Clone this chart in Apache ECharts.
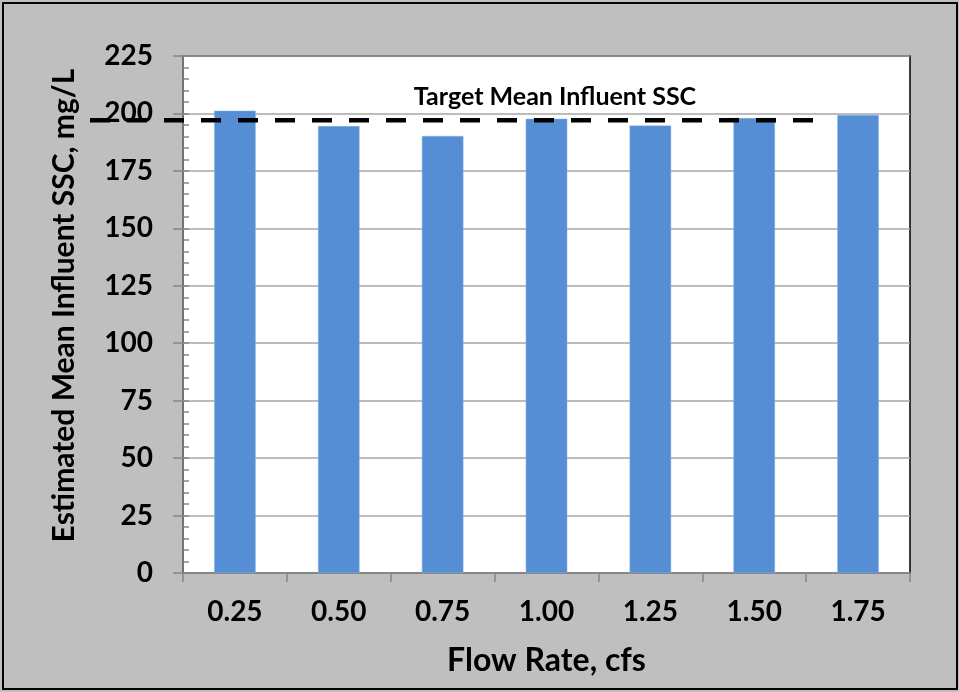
<!DOCTYPE html>
<html>
<head>
<meta charset="utf-8">
<script src="https://cdn.jsdelivr.net/npm/echarts@6/dist/echarts.min.js"></script>
<style>
html,body{margin:0;padding:0;background:#BFBFBF;}
#chart{width:959px;height:692px;}
</style>
</head>
<body>
<div id="chart"></div>
<script>
// data
var flowRates = ['0.25', '0.50', '0.75', '1.00', '1.25', '1.50', '1.75'];
var meanSSC = [201.2, 194.5, 190.2, 197.7, 194.7, 198.0, 199.3];
var targetSSC = 197;
var targetLine = [[0, targetSSC], [1, targetSSC]];

var font = 'Lato';
var chart = echarts.init(document.getElementById('chart'));

var option = {
	backgroundColor: '#BFBFBF',
	animation: false,
	textStyle: {fontFamily: font},
	graphic: [
		{type: 'rect', shape: {x: 3, y: 3, width: 954, height: 686}, style: {fill: 'none', stroke: '#000', lineWidth: 2}, z: 100},
		{type: 'text', x: 555, y: 97, style: {text: 'Target Mean Influent SSC', font: 'bold 25px ' + font, fill: '#000', textAlign: 'center', textVerticalAlign: 'middle'}, z: 100}
	],
	grid: [
		{left: 183, right: 49, top: 56, bottom: 119, show: true, backgroundColor: '#fff', borderColor: '#000', borderWidth: 1.5},
		{left: 90, right: 139, top: 56, bottom: 119}
	],
	xAxis: [
		{
			type: 'category', data: flowRates, gridIndex: 0,
			name: 'Flow Rate, cfs', nameLocation: 'middle', nameGap: 72,
			nameTextStyle: {fontSize: 32, fontWeight: 'bold', color: '#000'},
			axisLine: {lineStyle: {color: '#868686', width: 1.5}},
			axisTick: {show: true, length: 9, lineStyle: {color: '#868686', width: 1.5}},
			axisLabel: {fontSize: 28, fontWeight: 'bold', color: '#000', margin: 25},
			splitLine: {show: false}
		},
		{type: 'value', gridIndex: 1, min: 0, max: 1, show: false}
	],
	yAxis: [
		{
			type: 'value', gridIndex: 0, min: 0, max: 225, interval: 25,
			name: 'Estimated Mean Influent SSC, mg/L', nameLocation: 'middle', nameGap: 104,
			nameMoveOverlap: false,
			nameTextStyle: {fontSize: 30, fontWeight: 'bold', color: '#000', padding: [0, 0, 0, 18]},
			axisLine: {show: true, lineStyle: {color: '#868686', width: 1.5}},
			axisTick: {show: true, length: 10, lineStyle: {color: '#868686', width: 1.5}},
			axisLabel: {fontSize: 28, fontWeight: 'bold', color: '#000', margin: 30},
			splitLine: {show: true, lineStyle: {color: '#A6A6A6', width: 1.5}}
		},
		{
			// minor ticks, drawn inside
			type: 'value', gridIndex: 0, min: 0, max: 225, interval: 5, position: 'left',
			axisLine: {show: false},
			axisTick: {show: true, inside: true, length: 6, lineStyle: {color: '#868686', width: 1.5}},
			axisLabel: {show: false},
			splitLine: {show: false}
		},
		{type: 'value', gridIndex: 1, min: 0, max: 225, show: false}
	],
	series: [
		{
			type: 'bar', xAxisIndex: 0, yAxisIndex: 0, data: meanSSC, barWidth: '40%',
			itemStyle: {color: '#558ED5', borderColor: '#8DB4E2', borderWidth: 0.5}
		},
		{
			type: 'line', xAxisIndex: 1, yAxisIndex: 2, data: targetLine, symbol: 'none', z: 5,
			lineStyle: {color: '#000', width: 4.5, type: [20, 17]}
		}
	]
};
chart.setOption(option);
</script>
</body>
</html>
